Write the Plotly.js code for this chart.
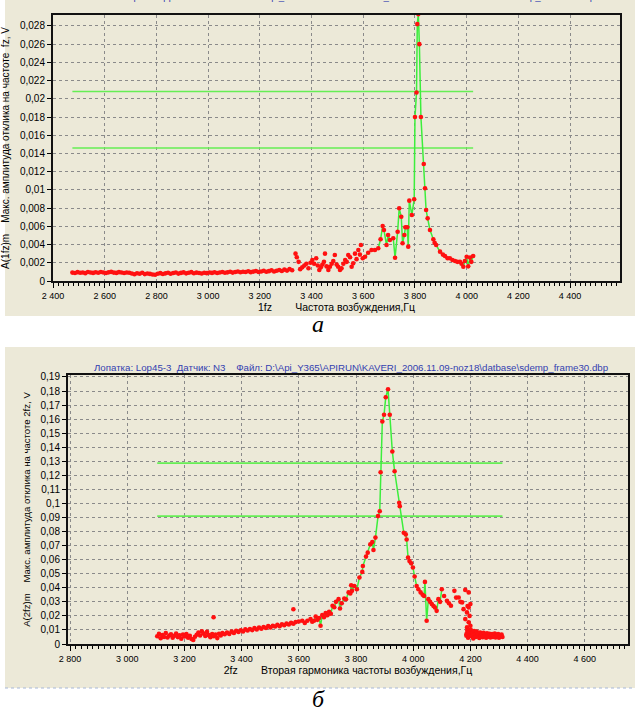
<!DOCTYPE html>
<html><head><meta charset="utf-8">
<script src="https://cdn.plot.ly/plotly-3.0.1.min.js"></script>
<style>html,body{margin:0;padding:0;background:#fff;}#chart{width:635px;height:711px;}</style>
</head><body><div id="chart"></div>
<script>
// ---------- Panel а : first harmonic ----------
const aBandFreq = [2475,2485,2495,2505,2515,2525,2535,2545,2555,2565,
  2575,2585,2595,2605,2615,2625,2635,2645,2655,2665,
  2675,2685,2695,2705,2715,2725,2735,2745,2755,2765,
  2775,2785,2795,2805,2815,2825,2835,2845,2855,2865,
  2875,2885,2895,2905,2915,2925,2935,2945,2955,2965,
  2975,2985,2995,3005,3015,3025,3035,3045,3055,3065,
  3075,3085,3095,3105,3115,3125,3135,3145,3155,3165,
  3175,3185,3195,3205,3215,3225,3235,3245,3255,3265,
  3275,3285,3295,3305,3315,3325];
const aBandAmp = [0.00092,0.00088,0.00097,0.00090,0.00094,0.00086,0.00099,0.00093,0.00089,0.00096,
  0.00091,0.00098,0.00094,0.00087,0.00095,0.00100,0.00092,0.00089,0.00097,0.00093,
  0.00088,0.00094,0.00090,0.00082,0.00074,0.00085,0.00079,0.00090,0.00076,0.00083,
  0.00078,0.00071,0.00068,0.00080,0.00086,0.00077,0.00084,0.00091,0.00079,0.00087,
  0.00093,0.00081,0.00089,0.00095,0.00084,0.00090,0.00097,0.00085,0.00092,0.00088,
  0.00083,0.00091,0.00086,0.00094,0.00089,0.00096,0.00087,0.00093,0.00099,0.00090,
  0.00095,0.00101,0.00092,0.00098,0.00104,0.00096,0.00102,0.00099,0.00107,0.00097,
  0.00103,0.00110,0.00098,0.00105,0.00113,0.00101,0.00108,0.00118,0.00104,0.00112,
  0.00120,0.00109,0.00125,0.00114,0.00130,0.00118];
const aScatFreq = [3338,3343,3350,3356,3364,3372,3380,3388,3396,3403,3410,3418,3424,3430,3436,3442,3448,3452,3458,3465,
  3471,3478,3484,3490,3497,3503,3510,3516,3523,3530,3536,3542,3549,3555,3561,3568,3574,3581,3587,3591];
const aScatAmp = [0.0030,0.0026,0.0021,0.0013,0.0015,0.0017,0.0019,0.0014,0.0020,0.0023,0.0019,0.0025,0.0017,0.0012,0.0015,0.0018,0.0021,0.0030,0.0016,0.0012,
  0.00157,0.0019,0.0022,0.00285,0.0018,0.00157,0.0012,0.00139,0.0019,0.0023,0.0021,0.00285,0.0026,0.00157,0.00194,0.0030,0.0024,0.0034,0.0029,0.00395];
const aResFreq = [3598,3607,3619,3632,3645,3658,3667,3675,3680,3690,3696,3703,3716,3723,3733,3739,3747,3752,3759,3763,
  3770,3774,3778,3788,3797,3800,3806,3809,3813,3817,3823,3834,3839,3843,3849,3858,3871,3876,3882,3897,
  3908,3916,3926,3935,3945,3955,3964,3974,3980,3987,3993,4000,4006,4013,4018,4025];
const aResAmp = [0.00249,0.00267,0.0031,0.0034,0.0034,0.00359,0.00458,0.00604,0.0056,0.00395,0.00505,0.0045,0.00469,0.00256,0.00541,0.00798,0.00706,0.00414,0.00505,0.0059,
  0.0059,0.00377,0.00882,0.00725,0.00897,0.0180,0.0207,0.0282,0.0293,0.0260,0.0180,0.01285,0.01018,0.0078,0.00688,0.0056,0.00458,0.0042,0.00395,0.00322,
  0.0029,0.00274,0.0025,0.00249,0.0023,0.0022,0.0021,0.00212,0.0019,0.00157,0.0022,0.00267,0.00161,0.00257,0.0021,0.00275];
const aLevelSpan = [2475, 4025];
const aLevels = [0.0208, 0.0146];

// ---------- Panel б : second harmonic ----------
const bBandFreq = [3105,3111,3117,3123,3129,3135,3141,3147,3153,3159,3165,3171,3177,3183,3189,3195,3201,3207,3213,3219,
  3225,3231,3237,3243,3249,3255,3261,3267,3273,3279,3285,3291,3297,3303,3309,3315,3321,3327,3333,
  3341,3349,3357,3365,3373,3381,3389,3397,3405,3413,3421,3429,3437,3445,3453,3461,3469,3477,3485,3493,
  3501,3509,3517,3525,3533,3541,3549,3557,3565,3573,3581,3589,3302,3581];
const bBandAmp = [0.0055,0.0072,0.0041,0.0063,0.0050,0.0078,0.0046,0.0060,0.0069,0.0044,0.0058,0.0075,0.0049,0.0062,0.0038,0.0067,0.0053,0.0071,0.0045,0.0059,
  0.0036,0.0028,0.0052,0.0066,0.0082,0.0061,0.0090,0.0074,0.0057,0.0086,0.0063,0.0048,0.0070,0.0055,0.0067,0.0042,0.0073,0.0060,0.0078,
  0.0069,0.0081,0.0072,0.0088,0.0079,0.0094,0.0085,0.0098,0.0089,0.0104,0.0096,0.0107,0.0099,0.0113,0.0103,0.0117,0.0109,0.0121,0.0114,0.0127,
  0.0118,0.0130,0.0124,0.0136,0.0126,0.0141,0.0133,0.0145,0.0139,0.0150,0.0144,0.0156,0.0190,0.0247];
const bResFreq = [3600,3612,3621,3630,3641,3647,3653,3659,3665,3671,3676,3682,3688,3694,3700,3706,3712,3718,3724,3730,
  3739,3744,3750,3759,3765,3774,3780,3783,3786,3794,3803,3812,3822,3824,3835,3841,3850,3857,3861,3868,
  3877,3883,3886,3892,3898,3904,3912,3918,3927,3935,3951,3953,3967,3974,3977,3982,3987,3993,3999,4005,
  4012,4018,4026,4033,4038,4041,4047,4053,4059,4065,4071,4076,4082,4088,4094,4100];
const bResAmp = [0.0160,0.0165,0.0150,0.0165,0.0177,0.0158,0.0165,0.0196,0.0172,0.0185,0.0130,0.0206,0.0190,0.0220,0.0205,0.0229,0.0215,0.0272,0.0262,0.0300,
  0.0319,0.0253,0.0290,0.0324,0.0318,0.0367,0.0360,0.0418,0.0378,0.0413,0.0390,0.0473,0.0513,0.0555,0.0622,0.0650,0.0709,0.0725,0.0669,0.0757,
  0.0910,0.0945,0.1222,0.1583,0.1631,0.1756,0.1813,0.1631,0.1370,0.1229,0.1005,0.0981,0.0792,0.0780,0.0744,0.0615,0.0590,0.0574,0.0544,0.0480,
  0.0413,0.0390,0.0367,0.0350,0.0342,0.0442,0.0165,0.0319,0.0300,0.0284,0.0270,0.0260,0.0236,0.0319,0.0300,0.0390];
const bTailFreq = [4108,4118,4125,4132,4144,4150,4159,4165,4171,4176,4182,4186,4188,4188,4182,4190,4194,4194,4194,4197,4200,4200,4192,4196,
  4186,4189,4192,4195,4198,4201,4204,4207,4210,4213,4216,4219,4222,4225,4228,4231,4234,4237,4240,4243,4246,4249,4252,4255,4258,4261,
  4264,4267,4270,4273,4276,4279,4282,4285,4288,4291,4294,4297,4300,4303,4306,4309,4312];
const bTailAmp = [0.0342,0.0307,0.0290,0.0272,0.0378,0.0330,0.0331,0.0300,0.0296,0.0248,0.0385,0.0059,0.0225,0.0118,0.0177,0.0270,0.0367,0.0260,0.0154,0.0200,0.0284,0.0130,0.0090,0.0075,
  0.0070,0.0095,0.0045,0.0085,0.0060,0.0102,0.0055,0.0080,0.0040,0.0092,0.0066,0.0050,0.0088,0.0058,0.0075,0.0043,0.0082,0.0062,0.0071,0.0048,0.0079,0.0057,0.0068,0.0045,0.0076,0.0060,
  0.0052,0.0073,0.0046,0.0065,0.0070,0.0050,0.0062,0.0074,0.0047,0.0066,0.0058,0.0071,0.0044,0.0063,0.0055,0.0068,0.0050];
const bLevelSpan = [3105, 4312];
const bLevels = [0.1287, 0.0910];

const titleA = 'Лопатка: Lop45-3  Датчик: N3    Файл: D:\\Api_Y365\\APIRUN\\KAVERI_2006.11.09-noz18\\datbase\\sdemp_frame18.dbp';
const titleB = 'Лопатка: Lop45-3  Датчик: N3    Файл: D:\\Api_Y365\\APIRUN\\KAVERI_2006.11.09-noz18\\datbase\\sdemp_frame30.dbp';

// ---------- drawing ----------
const W = 635, H = 711;
const px = v => v / W, py = v => 1 - v / H;
const F = 'Liberation Sans, Arial, sans-serif';
const GREEN = '#3cee3c', LEVEL = '#66ee55', RED = '#ff1010';
const NB = '\u00a0';

function levelTraces(span, levels, xa, ya) {
  return levels.map(l => ({x: span, y: [l, l], xaxis: xa, yaxis: ya, mode: 'lines',
    line: {color: LEVEL, width: 1.6}, hoverinfo: 'skip'}));
}
const traces = [
  ...levelTraces(aLevelSpan, aLevels, 'x', 'y'),
  {x: aResFreq, y: aResAmp, xaxis: 'x', yaxis: 'y', mode: 'lines', line: {color: GREEN, width: 1.5}},
  {x: aBandFreq.concat(aScatFreq, aResFreq), y: aBandAmp.concat(aScatAmp, aResAmp), xaxis: 'x', yaxis: 'y',
   mode: 'markers', marker: {color: RED, size: 4.6, line: {width: 0}}},
  ...levelTraces(bLevelSpan, bLevels, 'x2', 'y2'),
  {x: bResFreq, y: bResAmp, xaxis: 'x2', yaxis: 'y2', mode: 'lines', line: {color: GREEN, width: 1.5}},
  {x: bBandFreq.concat(bResFreq, bTailFreq), y: bBandAmp.concat(bResAmp, bTailAmp), xaxis: 'x2', yaxis: 'y2',
   mode: 'markers', marker: {color: RED, size: 4.6, line: {width: 0}}}
];

const xCommon = {dtick: 200, tick0: 0, separatethousands: true, ticks: 'outside', ticklen: 5, tickcolor: '#000',
  minor: {ticks: 'outside', ticklen: 3, dtick: 20, tickcolor: '#000', showgrid: false},
  showline: true, mirror: true, linecolor: '#111', linewidth: 2,
  showgrid: true, gridcolor: '#8a8a8a', griddash: '3px,3px', gridwidth: 1, zeroline: false,
  tickfont: {family: F, size: 9, color: '#000'}, fixedrange: true};
const yCommon = {ticks: 'outside', ticklen: 4, tickcolor: '#000', showline: true, mirror: true, linecolor: '#111', linewidth: 2,
  showgrid: true, gridcolor: '#8a8a8a', griddash: 'dot', gridwidth: 1, zeroline: false,
  tickfont: {family: F, size: 10, color: '#000'}, fixedrange: true};

const layout = {
  width: W, height: H, margin: {l: 0, r: 0, t: 0, b: 0},
  paper_bgcolor: '#ffffff', plot_bgcolor: '#ECE9D8', showlegend: false,
  separators: ', ', font: {family: F, size: 10, color: '#000'},
  xaxis: Object.assign({}, xCommon, {domain: [px(53), px(620)], range: [2400, 4593], anchor: 'y',
    title: {text: '1fz' + NB.repeat(8) + 'Частота возбуждения,Гц', standoff: 3, font: {family: F, size: 10.5, color: '#000'}}}),
  yaxis: Object.assign({}, yCommon, {domain: [py(281), py(15)], range: [0, 0.0292], dtick: 0.002, anchor: 'x',
    title: {text: 'A(1fz)m' + NB.repeat(4) + 'Макс. амплитуда отклика на частоте' + NB.repeat(2) + 'fz, V', standoff: 8, font: {family: F, size: 10, color: '#000'}}}),
  xaxis2: Object.assign({}, xCommon, {domain: [px(68), px(628)], range: [2793, 4751], anchor: 'y2',
    title: {text: '2fz' + NB.repeat(8) + 'Вторая гармоника частоты возбуждения,Гц', standoff: 3, font: {family: F, size: 10.5, color: '#000'}}}),
  yaxis2: Object.assign({}, yCommon, {domain: [py(644), py(375)], range: [0, 0.1914], dtick: 0.01, anchor: 'x2',
    title: {text: 'A(2fz)m' + NB.repeat(4) + 'Макс. амплитуда отклика на частоте 2fz, V', standoff: 8, font: {family: F, size: 9.6, color: '#000'}}}),
  shapes: [
    {type: 'rect', xref: 'paper', yref: 'paper', x0: px(5), x1: 1, y0: py(316), y1: 1, fillcolor: '#ECE9D8', line: {width: 0}, layer: 'below'},
    {type: 'rect', xref: 'paper', yref: 'paper', x0: px(5), x1: 1, y0: py(688), y1: py(347), fillcolor: '#ECE9D8', line: {width: 0}, layer: 'below'},
    {type: 'line', xref: 'paper', yref: 'paper', x0: px(5), x1: 1, y0: py(688), y1: py(688), line: {color: '#a8b8d8', width: 1, dash: 'dot'}}
  ],
  annotations: [
    {xref: 'paper', yref: 'paper', x: px(338), y: py(4), xanchor: 'center', yanchor: 'bottom', showarrow: false,
     text: titleA, font: {family: F, size: 9.7, color: '#3340b0'}},
    {xref: 'paper', yref: 'paper', x: px(351), y: py(367), xanchor: 'center', yanchor: 'middle', showarrow: false,
     text: titleB, font: {family: F, size: 9.7, color: '#3340b0'}},
    {xref: 'paper', yref: 'paper', x: px(318), y: py(324), xanchor: 'center', yanchor: 'middle', showarrow: false,
     text: 'а', font: {family: 'Liberation Serif, Times New Roman, serif', size: 24, style: 'italic', color: '#000'}},
    {xref: 'paper', yref: 'paper', x: px(318), y: py(699), xanchor: 'center', yanchor: 'middle', showarrow: false,
     text: 'б', font: {family: 'Liberation Serif, Times New Roman, serif', size: 24, style: 'italic', color: '#000'}}
  ]
};
Plotly.newPlot('chart', traces, layout, {displayModeBar: false, staticPlot: true});
</script></body></html>
